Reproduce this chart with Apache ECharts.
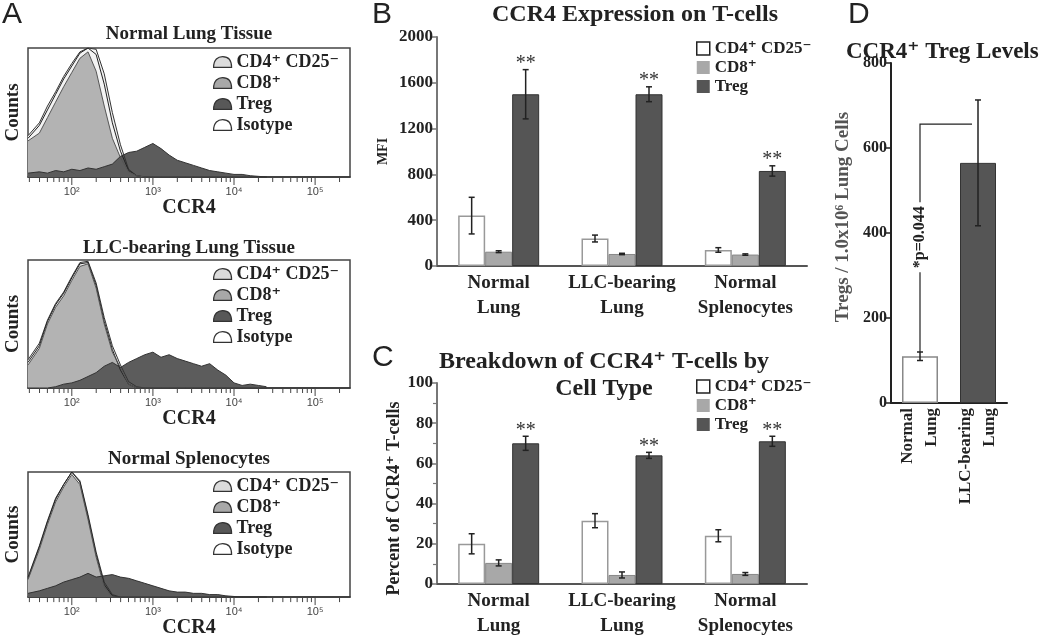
<!DOCTYPE html>
<html>
<head>
<meta charset="utf-8">
<script src="https://cdn.jsdelivr.net/npm/echarts@6/dist/echarts.min.js"></script>
<style>
html,body{margin:0;padding:0;background:#fff}
#main{width:1050px;height:639px}
</style>
</head>
<body>
<div id="main"></div>
<script>
var SERIF = "'Liberation Serif','DejaVu Serif',serif";
var SANS = "'Liberation Sans','DejaVu Sans',sans-serif";

var S_CD4 = 'CD4⁺ CD25⁻', S_CD8 = 'CD8⁺', S_TREG = 'Treg', S_ISO = 'Isotype';

// ---- A: histograms, x = log10(CCR4 fluorescence), y = % of max counts
var ccr4Log = [1.46,1.6,1.7,1.8,1.9,2.0,2.1,2.2,2.3,2.4,2.5,2.6,2.7,2.8,2.9,3.0,3.1,3.2,3.3,3.4,3.5,3.6,3.7,3.8,3.9,4.0,4.1,4.2,4.3,4.4];
var histTitles = ['Normal Lung Tissue', 'LLC-bearing Lung Tissue', 'Normal Splenocytes'];

var nlCD4  = [32,42,55,66,78,88,97,100,99,80,50,25,6,1,0,0,0,0,0,0,0,0,0,0,0,0,0,0,0,0];
var nlCD8  = [28,34,46,58,70,81,92,97,82,55,30,15,4,1,0,0,0,0,0,0,0,0,0,0,0,0,0,0,0,0];
var nlTreg = [3,4,3,5,4,6,5,7,6,8,10,16,19,20,23,26,22,17,13,11,9,7,5,4,3,2,2,1,0.5,0];
var nlIso  = [30,40,52,64,76,86,96,100,95,72,42,20,5,1,0,0,0,0,0,0,0,0,0,0,0,0,0,0,0,0];

var llCD4  = [22,35,53,66,75,87,98,99,82,55,33,18,5,1,0,0,0,0,0,0,0,0,0,0,0,0,0,0,0,0];
var llCD8  = [18,31,50,63,72,84,95,97,78,50,28,16,3,0,0,0,0,0,0,0,0,0,0,0,0,0,0,0,0,0];
var llTreg = [0,0,0,1,3,4,6,9,12,17,20,16,20,23,26,28,24,26,23,21,19,17,19,14,10,4,2,3,2,1];
var llIso  = [20,33,52,65,74,86,97,98,80,52,30,14,3,0,0,0,0,0,0,0,0,0,0,0,0,0,0,0,0,0];

var spCD4  = [16,41,61,79,90,100,93,66,36,12,2,0,0,0,0,0,0,0,0,0,0,0,0,0,0,0,0,0,0,0];
var spCD8  = [14,38,58,76,88,98,90,62,32,8,0,0,0,0,0,0,0,0,0,0,0,0,0,0,0,0,0,0,0,0];
var spTreg = [3,5,7,9,12,14,16,19,16,17,18,16,15,13,11,9,7,5,4,4,3,3,2,2,1,0.5,0,0,0,0];
var spIso  = [15,40,60,78,90,100,92,64,34,10,1,0,0,0,0,0,0,0,0,0,0,0,0,0,0,0,0,0,0,0];

var histTickPos = [2, 3, 4, 5];
var histTickLabels = ['10²', '10³', '10⁴', '10⁵'];
var histMin = 1.46, histMax = 5.43;

// ---- B: MFI
var groupCats = ['Normal\nLung', 'LLC-bearing\nLung', 'Normal\nSplenocytes'];
var bCD4 = [440, 240, 140],   bCD4Err = [160, 30, 20];
var bCD8 = [125, 105, 100],   bCD8Err = [8, 6, 6];
var bTreg = [1500, 1500, 830], bTregErr = [215, 65, 45];
var bSig = ['**', '**', '**'];

// ---- C: percent of CCR4+ T-cells
var cCD4 = [20, 31.5, 24],  cCD4Err = [5, 3.5, 3];
var cCD8 = [10.5, 4.5, 5],  cCD8Err = [1.5, 1.5, 0.7];
var cTreg = [70, 64, 71],   cTregErr = [3.5, 1.5, 2.5];
var cSig = ['**', '**', '**'];

// ---- D: CCR4+ Treg levels
var dCats = ['Normal\nLung', 'LLC-bearing\nLung'];
var dVals = [110, 565], dErr = [10, 148];
var dPText = '*p=0.044';

var histTops = [48, 260, 472], histHeights = [129, 128, 130];

// log-decade minor tick positions (2..9 x 10^n)
function minorTicks() {
  var out = [];
  for (var n = 1; n <= 5; n++) {
    for (var k = 2; k <= 9; k++) {
      var v = Math.log10(k * Math.pow(10, n));
      if (v >= histMin && v <= histMax) out.push(v);
    }
  }
  return out;
}
var histMinorPos = minorTicks();

var grids = [], xAxes = [], yAxes = [], series = [], legends = [], graphics = [];

var DOME = 'path://M0,12 C0,3 5,0 10,0 C15,0 20,3 20,12 Z';
var domeFill = ['#dcdcdc', '#a8a8a8', '#585858', '#ffffff'];
var histNames = [S_CD4, S_CD8, S_TREG, S_ISO];
var histSets = [[nlCD4, nlCD8, nlTreg, nlIso], [llCD4, llCD8, llTreg, llIso], [spCD4, spCD8, spTreg, spIso]];

function pairs(arr) { return ccr4Log.map(function (x, i) { return [x, arr[i]]; }); }

function tickSeries(xi, yi, positions, len) {
  return {
    type: 'custom', xAxisIndex: xi, yAxisIndex: yi, silent: true, clip: false, z: 4,
    data: positions.map(function (v) { return [v, 0]; }),
    renderItem: function (params, api) {
      var p = api.coord([api.value(0), 0]);
      return {type: 'line', shape: {x1: p[0], y1: p[1], x2: p[0], y2: p[1] + len},
        style: {stroke: '#444', lineWidth: 1}};
    }
  };
}

histSets.forEach(function (set, i) {
  grids.push({left: 28, top: histTops[i], width: 322, height: histHeights[i], show: true, borderColor: '#444', borderWidth: 1.5});
  xAxes.push({
    type: 'value', gridIndex: i, min: histMin, max: histMax, position: 'bottom',
    axisLine: {onZero: false, lineStyle: {color: '#333', width: 1.5}},
    axisTick: {show: false},
    axisLabel: {customValues: histTickPos, fontFamily: SANS, fontSize: 11, color: '#444', margin: 9,
      formatter: function (v) { return histTickLabels[histTickPos.indexOf(Math.round(v))]; }},
    splitLine: {show: false},
    name: 'CCR4', nameLocation: 'middle', nameGap: 17,
    nameTextStyle: {fontFamily: SERIF, fontWeight: 'bold', fontSize: 20, color: '#222'}
  });
  yAxes.push({
    type: 'value', gridIndex: i, min: 0, max: 100,
    axisLine: {show: false}, axisTick: {show: false}, axisLabel: {show: false}, splitLine: {show: false},
    name: 'Counts', nameLocation: 'middle', nameGap: 5,
    nameTextStyle: {fontFamily: SERIF, fontWeight: 'bold', fontSize: 19, color: '#222'}
  });
  var common = {type: 'line', xAxisIndex: i, yAxisIndex: i, symbol: 'none', silent: true, clip: true};
  series.push(Object.assign({}, common, {name: S_CD4, data: pairs(set[0]),
    lineStyle: {color: '#333', width: 1}, areaStyle: {color: '#f3f3f3', opacity: 1}}));
  series.push(Object.assign({}, common, {name: S_ISO, data: pairs(set[3]),
    lineStyle: {color: '#222', width: 1}}));
  series.push(Object.assign({}, common, {name: S_CD8, data: pairs(set[1]),
    lineStyle: {color: '#555', width: 1}, areaStyle: {color: '#b3b3b3', opacity: 1}}));
  series.push(Object.assign({}, common, {name: S_TREG, data: pairs(set[2]),
    lineStyle: {color: '#333', width: 1}, areaStyle: {color: '#5c5c5c', opacity: 1}}));
  series.push(tickSeries(i, i, histMinorPos, 5));
  series.push(tickSeries(i, i, histTickPos, 8));

  legends.push({
    orient: 'vertical', left: 213, top: histTops[i] + 5, padding: 0, itemGap: 3,
    itemWidth: 18, itemHeight: 12, selectedMode: false,
    textStyle: {fontFamily: SERIF, fontWeight: 'bold', fontSize: 18, lineHeight: 16, color: '#222'},
    data: histNames.map(function (n, k) {
      return {name: n, icon: DOME, itemStyle: {color: domeFill[k], borderColor: '#333', borderWidth: 1.2}};
    })
  });
  graphics.push({type: 'text', x: 189, y: [25, 239, 450][i],
    style: {text: histTitles[i], font: 'bold 19px ' + SERIF, fill: '#222', align: 'center', verticalAlign: 'top'}});
});

// ---- bar panels B and C
function catAxis(gi, color) {
  return {
    type: 'category', gridIndex: gi, data: groupCats,
    axisLine: {lineStyle: {color: color, width: 2}},
    axisTick: {length: 5, lineStyle: {color: color, width: 1.5}},
    axisLabel: {interval: 0, fontFamily: SERIF, fontWeight: 'bold', fontSize: 19, lineHeight: 25, color: '#222', margin: 5}
  };
}
function valAxis(gi, max, interval, name, gap, size, minor, pad) {
  return {
    type: 'value', gridIndex: gi, min: 0, max: max, interval: interval,
    axisLine: {show: true, lineStyle: {color: '#777', width: 2}},
    axisTick: {show: true, length: 5, lineStyle: {color: '#777', width: 1.5}},
    minorTick: {show: minor, splitNumber: 2, length: 4, lineStyle: {color: '#777', width: 1.2}},
    axisLabel: {fontFamily: SERIF, fontWeight: 'bold', fontSize: 17, color: '#222', margin: 4,
      formatter: function (v) { return String(v); }},
    splitLine: {show: false},
    name: name, nameLocation: 'middle', nameGap: gap,
    nameTextStyle: {fontFamily: SERIF, fontWeight: 'bold', fontSize: size, color: '#222', padding: pad}
  };
}

var BAR_W = 27;
var barStyles = [
  {color: '#ffffff', borderColor: '#999', borderWidth: 1.5},
  {color: '#a8a8a8', borderColor: '#888', borderWidth: 1},
  {color: '#555555', borderColor: '#333', borderWidth: 1}
];
var barNames = [S_CD4, S_CD8, S_TREG];

function errSeries(xi, yi, means, errs, offset, barW, sigs) {
  return {
    type: 'custom', xAxisIndex: xi, yAxisIndex: yi, silent: true, z: 5,
    data: means.map(function (m, i) { return [i, m, errs[i]]; }),
    renderItem: function (params, api) {
      var c = api.value(0), m = api.value(1), e = api.value(2);
      var hi = api.coord([c, m + e]), lo = api.coord([c, m - e]);
      var x = hi[0] + offset * barW, cap = 3;
      var st = {stroke: '#222', lineWidth: 1.5};
      var ch = [
        {type: 'line', shape: {x1: x, y1: hi[1], x2: x, y2: lo[1]}, style: st},
        {type: 'line', shape: {x1: x - cap, y1: hi[1], x2: x + cap, y2: hi[1]}, style: st},
        {type: 'line', shape: {x1: x - cap, y1: lo[1], x2: x + cap, y2: lo[1]}, style: st}
      ];
      if (sigs && sigs[params.dataIndex]) {
        ch.push({type: 'text', x: x, y: hi[1] + 4,
          style: {text: sigs[params.dataIndex], font: '20px ' + SERIF, fill: '#333', align: 'center', verticalAlign: 'bottom'}});
      }
      return {type: 'group', children: ch};
    }
  };
}

function barPanel(xi, yi, sets, errsets, sigs) {
  sets.forEach(function (vals, k) {
    series.push({type: 'bar', name: barNames[k], xAxisIndex: xi, yAxisIndex: yi, data: vals,
      barWidth: BAR_W, barGap: '0%', itemStyle: barStyles[k], silent: true});
  });
  sets.forEach(function (vals, k) {
    series.push(errSeries(xi, yi, vals, errsets[k], k - 1, BAR_W, k === 2 ? sigs : null));
  });
}

function barLegend(top) {
  return {
    orient: 'vertical', left: 696, top: top, padding: 0, itemGap: 2,
    itemWidth: 13, itemHeight: 13, selectedMode: false,
    textStyle: {fontFamily: SERIF, fontWeight: 'bold', fontSize: 17, lineHeight: 16, color: '#222'},
    data: barNames.map(function (n, k) {
      return {name: n, icon: 'rect', itemStyle: {color: barStyles[k].color, borderColor: k === 0 ? '#222' : barStyles[k].color, borderWidth: k === 0 ? 1.5 : 0}};
    })
  };
}

// grid 3 = B, grid 4 = C, grid 5 = D
grids.push({left: 437, top: 37, width: 370, height: 229});
grids.push({left: 437, top: 383, width: 370, height: 205});
grids.push({left: 891, top: 63, width: 116, height: 340});

xAxes.push(catAxis(3, '#555'));  // xAxis 3
xAxes.push(catAxis(4, '#555'));  // xAxis 4
yAxes.push(valAxis(3, 2000, 400, 'MFI', 47, 14, false, 0));                          // yAxis 3
yAxes.push(valAxis(4, 100, 20, 'Percent of CCR4⁺ T-cells', 24, 18, true, [0, 30, 0, 0])); // yAxis 4

barPanel(3, 3, [bCD4, bCD8, bTreg], [bCD4Err, bCD8Err, bTregErr], bSig);
barPanel(4, 4, [cCD4, cCD8, cTreg], [cCD4Err, cCD8Err, cTregErr], cSig);
legends.push(barLegend(40));
legends.push(barLegend(378));

// ---- D
xAxes.push({
  type: 'category', gridIndex: 5, data: dCats,
  axisLine: {lineStyle: {color: '#222', width: 2}},
  axisTick: {length: 5, lineStyle: {color: '#222', width: 1.5}},
  axisLabel: {interval: 0, rotate: 90, fontFamily: SERIF, fontWeight: 'bold', fontSize: 17, lineHeight: 24, color: '#222', margin: 5}
}); // xAxis 5
yAxes.push({
  type: 'value', gridIndex: 5, min: 0, max: 800, interval: 200,
  axisLine: {show: true, lineStyle: {color: '#222', width: 2}},
  axisTick: {show: true, length: 5, lineStyle: {color: '#222', width: 1.5}},
  axisLabel: {fontFamily: SERIF, fontWeight: 'bold', fontSize: 16, color: '#222', margin: 4},
  splitLine: {show: false},
  name: 'Tregs / 1.0x10⁶ Lung Cells', nameLocation: 'middle', nameGap: 38,
  nameTextStyle: {fontFamily: SERIF, fontWeight: 'bold', fontSize: 19, color: '#555', padding: [0, 0, 0, 32]}
}); // yAxis 5

var dStyles = [
  {color: '#ffffff', borderColor: '#888', borderWidth: 1.5},
  {color: '#555555', borderColor: '#333', borderWidth: 1}
];
series.push({type: 'bar', name: 'dTreg', xAxisIndex: 5, yAxisIndex: 5, barWidth: 36, silent: true,
  data: dVals.map(function (v, i) { return {value: v, itemStyle: dStyles[i]}; })});
series.push(errSeries(5, 5, dVals, dErr, 0, 0, null));
series.push({
  type: 'custom', xAxisIndex: 5, yAxisIndex: 5, silent: true, z: 6,
  data: [[0, 0]],
  renderItem: function (params, api) {
    var level = 656, textLevel = 390;
    var p0 = api.coord([0, dVals[0] + dErr[0]]);
    var t0 = api.coord([0, level]);
    var t1 = api.coord([1, level]);
    var mid = api.coord([0, textLevel]);
    return {type: 'group', children: [
      {type: 'polyline', shape: {points: [[p0[0], p0[1]], [t0[0], t0[1]], [t1[0] - 6, t1[1]]]},
        style: {stroke: '#222', lineWidth: 1.2, fill: 'none'}},
      {type: 'text', x: mid[0], y: mid[1], rotation: Math.PI / 2,
        style: {text: dPText, font: 'bold 16px ' + SERIF, fill: '#222', align: 'center', verticalAlign: 'middle',
          backgroundColor: '#fff', padding: [0, 4]}}
    ]};
  }
});

// ---- panel letters and titles
graphics.push({type: 'text', x: 2, y: 0, style: {text: 'A', font: '30px ' + SANS, fill: '#222', verticalAlign: 'top'}});
graphics.push({type: 'text', x: 372, y: 0, style: {text: 'B', font: '30px ' + SANS, fill: '#222', verticalAlign: 'top'}});
graphics.push({type: 'text', x: 372, y: 343, style: {text: 'C', font: '30px ' + SANS, fill: '#222', verticalAlign: 'top'}});
graphics.push({type: 'text', x: 848, y: 0, style: {text: 'D', font: '30px ' + SANS, fill: '#222', verticalAlign: 'top'}});
graphics.push({type: 'text', x: 635, y: 3, style: {text: 'CCR4 Expression on T-cells', font: 'bold 24px ' + SERIF, fill: '#222', align: 'center', verticalAlign: 'top'}});
graphics.push({type: 'text', x: 604, y: 348, style: {text: 'Breakdown of CCR4⁺ T-cells by\nCell Type', font: 'bold 24px ' + SERIF, lineHeight: 27, fill: '#222', align: 'center', verticalAlign: 'top'}});
graphics.push({type: 'text', x: 846, y: 41, style: {text: 'CCR4⁺ Treg Levels', font: 'bold 23px ' + SERIF, fill: '#222', verticalAlign: 'top'}});

var chart = echarts.init(document.getElementById('main'));
chart.setOption({
  animation: false,
  backgroundColor: '#fff',
  grid: grids,
  xAxis: xAxes,
  yAxis: yAxes,
  legend: legends,
  graphic: graphics,
  series: series
});
</script>
</body>
</html>
